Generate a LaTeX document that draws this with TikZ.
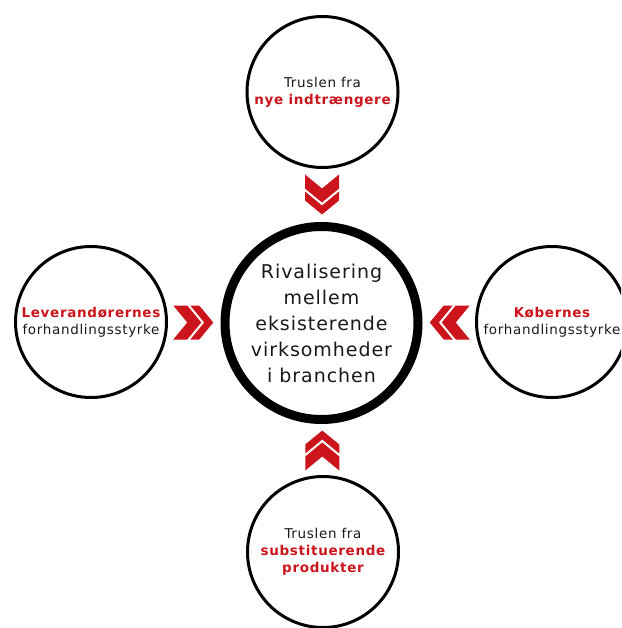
\documentclass[tikz,border=0pt]{standalone}
\usepackage{fontspec}
\setmainfont{DejaVu Sans}
\newfontfamily\forcefont[LetterSpace=5]{DejaVu Sans}
\usetikzlibrary{calc}
\definecolor{porterred}{RGB}{204,20,28}
\definecolor{textgray}{RGB}{25,25,25}
\newcommand{\hl}[1]{\textcolor{porterred}{\bfseries #1}}

\tikzset{
  force/.style={circle,draw,line width=3pt,minimum size=151pt,inner sep=0pt,
    align=center,text=textgray,font=\forcefont\fontsize{13.5}{17}\selectfont},
  rivalry/.style={circle,draw,line width=9pt,minimum size=193pt,inner sep=0pt,
    align=center,text=textgray,font=\forcefont\fontsize{19}{26}\selectfont},
  % double chevron pointing along +x
  chevrons/.pic={
    \fill[porterred] (-21,-17) -- (-7,-17) -- (7,0) -- (-7,17) -- (-21,17) -- (-7,0) -- cycle;
    \fill[porterred] (-4,-17) -- (5,-17) -- (19,0) -- (5,17) -- (-4,17) -- (10,0) -- cycle;
  }
}

\begin{document}
\begin{tikzpicture}[x=1pt,y=-1pt]
       \useasboundingbox (0,0) rectangle (621,628);
       \clip (0,0) rectangle (621,628);

       \node[rivalry] (mid) at (321.5,323) {Rivalisering\\mellem\\eksisterende\\virksomheder\\i branchen};

       \node[force] (top) at (322.5,92) {Truslen fra\\\hl{nye indtrængere}};
       \node[force] (left) at (91,322) {\hl{Leverandørernes}\\forhandlingsstyrke};
       \node[force] (right) at (552,322) {\hl{Købernes}\\forhandlingsstyrke};
       \node[force] (bottom) at (323,552) {Truslen fra\\\hl{substituerende}\\\hl{produkter}};

       \pic[rotate=-90] at ($(top.south)!0.5!(mid.north)$) {chevrons};
       \pic at ($(left.east)!0.5!(mid.west)$) {chevrons};
       \pic[rotate=180] at ($(right.west)!0.5!(mid.east)$) {chevrons};
       \pic[rotate=90] at ($(bottom.north)!0.5!(mid.south)$) {chevrons};
      \end{tikzpicture}
\end{document}
